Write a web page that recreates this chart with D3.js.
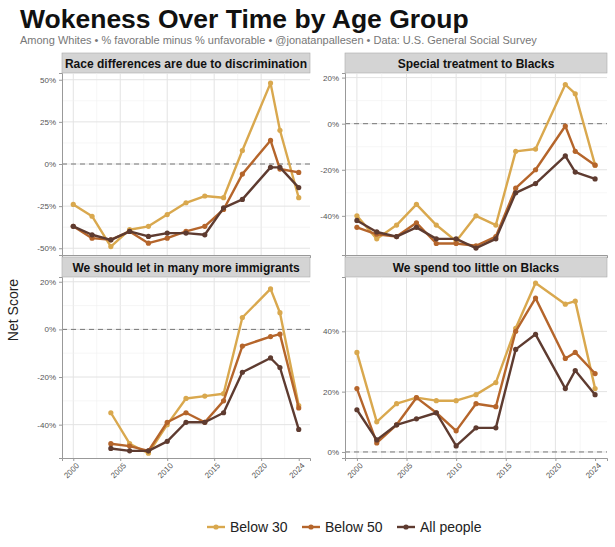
<!DOCTYPE html>
<html>
<head>
<meta charset="utf-8">
<script src="https://cdn.jsdelivr.net/npm/d3@7"></script>
<style>
  body { margin: 0; background: #fff; font-family: "Liberation Sans", Arial, sans-serif; }
  .tick text { fill: #555; font-size: 8px; }
</style>
</head>
<body>
<svg id="chart" width="615" height="547"></svg>
<script>
var years = [2000, 2002, 2004, 2006, 2008, 2010, 2012, 2014, 2016, 2018, 2021, 2022, 2024];
var immYears = [2004, 2006, 2008, 2010, 2012, 2014, 2016, 2018, 2021, 2022, 2024];
var seriesNames = ["Below 30", "Below 50", "All people"];
var colors = ["#d9a84e", "#b5652b", "#5e3b30"];
var xTicks = [2000, 2005, 2010, 2015, 2020, 2024];

var raceBelow30 = [-24, -31, -49, -39, -37, -30, -23, -19, -20, 8, 48, 20, -20];
var raceBelow50 = [-37, -44, -45, -40, -47, -44, -40, -37, -27, -6, 14, -3, -5];
var raceAll     = [-37, -42, -45, -40, -43, -41, -41, -42, -26, -21, -2, -2, -14];

var specBelow30 = [-40, -50, -44, -35, -44, -51, -40, -44, -12, -11, 17, 13, -18];
var specBelow50 = [-45, -48, -49, -43, -52, -52, -53, -49, -28, -20, -1, -12, -18];
var specAll     = [-42, -47, -49, -45, -50, -50, -54, -50, -30, -26, -14, -21, -24];

var immBelow30 = [-35, -48, -52, -40, -29, -28, -27, 5, 17, 7, -32];
var immBelow50 = [-48, -49, -51, -39, -35, -39, -30, -7, -3, -2, -33];
var immAll     = [-50, -51, -51, -47, -39, -39, -35, -18, -12, -16, -42];

var spendBelow30 = [33, 10, 16, 18, 17, 17, 19, 23, 41, 56, 49, 50, 21];
var spendBelow50 = [21, 3, 9, 18, 13, 7, 16, 15, 40, 51, 31, 33, 26];
var spendAll     = [14, 4, 9, 11, 13, 2, 8, 8, 34, 39, 21, 27, 19];

var panels = [
  { title: "Race differences are due to discrimination", x: years, s: [raceBelow30, raceBelow50, raceAll],
    dom: [-54, 54], ticks: [-50, -25, 0, 25, 50], left: 62, right: 310, top: 53, bottom: 255, xaxis: false },
  { title: "Special treatment to Blacks", x: years, s: [specBelow30, specBelow50, specAll],
    dom: [-57, 22], ticks: [-40, -20, 0, 20], left: 345, right: 607, top: 53, bottom: 255, xaxis: false },
  { title: "We should let in many more immigrants", x: immYears, s: [immBelow30, immBelow50, immAll],
    dom: [-54, 22], ticks: [-40, -20, 0, 20], left: 62, right: 310, top: 257, bottom: 458, xaxis: true },
  { title: "We spend too little on Blacks", x: years, s: [spendBelow30, spendBelow50, spendAll],
    dom: [-2, 58], ticks: [0, 20, 40], left: 345, right: 607, top: 257, bottom: 458, xaxis: true }
];

var svg = d3.select("#chart");

svg.append("text").attr("x", 20).attr("y", 28).attr("font-size", 26.5).attr("font-weight", "bold")
  .attr("fill", "#111").text("Wokeness Over Time by Age Group");
svg.append("text").attr("x", 20).attr("y", 44).attr("font-size", 11).attr("fill", "#777")
  .text("Among Whites • % favorable minus % unfavorable • @jonatanpallesen • Data: U.S. General Social Survey");

svg.append("text").attr("transform", "translate(18,310) rotate(-90)").attr("text-anchor", "middle")
  .attr("font-size", 14).attr("fill", "#222").text("Net Score");

panels.forEach(function(p) {
  var stripH = 20;
  var plotTop = p.top + stripH;
  var x = d3.scaleLinear().domain([1998.8, 2025.2]).range([p.left, p.right]);
  var y = d3.scaleLinear().domain(p.dom).range([p.bottom, plotTop]);
  var g = svg.append("g");

  // strip
  g.append("rect").attr("x", p.left).attr("y", p.top).attr("width", p.right - p.left).attr("height", stripH)
    .attr("fill", "#d4d4d4").attr("stroke", "#aaa").attr("stroke-width", 0.6);
  g.append("text").attr("x", (p.left + p.right) / 2).attr("y", p.top + 14.5).attr("text-anchor", "middle")
    .attr("font-size", 12).attr("font-weight", "bold").attr("fill", "#111").text(p.title);

  // grid
  var minor = d3.range(2000, 2025, 2.5);
  g.selectAll(".vg").data(minor).enter().append("line")
    .attr("x1", d => x(d)).attr("x2", d => x(d)).attr("y1", plotTop).attr("y2", p.bottom)
    .attr("stroke", d => (d % 5 === 0 ? "#e3e3e3" : "#f0f0f0")).attr("stroke-width", d => (d % 5 === 0 ? 1 : 0.6));
  var yMinor = [];
  for (var i = 0; i < p.ticks.length - 1; i++) yMinor.push((p.ticks[i] + p.ticks[i + 1]) / 2);
  g.selectAll(".hm").data(yMinor).enter().append("line")
    .attr("x1", p.left).attr("x2", p.right).attr("y1", d => y(d)).attr("y2", d => y(d))
    .attr("stroke", "#f0f0f0").attr("stroke-width", 0.6);
  g.selectAll(".hg").data(p.ticks).enter().append("line")
    .attr("x1", p.left).attr("x2", p.right).attr("y1", d => y(d)).attr("y2", d => y(d))
    .attr("stroke", "#e3e3e3");

  // zero line
  g.append("line").attr("x1", p.left).attr("x2", p.right).attr("y1", y(0)).attr("y2", y(0))
    .attr("stroke", "#777").attr("stroke-dasharray", "5,4").attr("stroke-width", 1);

  // axes
  var ya = g.append("g").attr("transform", "translate(" + p.left + ",0)")
    .call(d3.axisLeft(y).tickValues(p.ticks).tickSize(3).tickFormat(d => d + "%"));
  ya.select(".domain").attr("stroke", "#999");
  ya.selectAll(".tick line").attr("stroke", "#999");
  var xa = g.append("g").attr("transform", "translate(0," + p.bottom + ")")
    .call(d3.axisBottom(x).tickValues(xTicks).tickSize(3).tickFormat(p.xaxis ? d3.format("d") : ""));
  xa.select(".domain").attr("stroke", "#999");
  xa.selectAll(".tick line").attr("stroke", "#999");
  if (p.xaxis) {
    xa.selectAll(".tick text").attr("text-anchor", "end").attr("dx", "-0.2em").attr("dy", "0.5em")
      .attr("transform", "rotate(-45)");
  } else {
    xa.selectAll(".tick line").remove();
  }

  // series
  var line = d3.line().x(d => x(d[0])).y(d => y(d[1]));
  p.s.forEach(function(vals, k) {
    var pts = p.x.map((yr, j) => [yr, vals[j]]);
    g.append("path").datum(pts).attr("d", line).attr("fill", "none")
      .attr("stroke", colors[k]).attr("stroke-width", 2.4).attr("stroke-linejoin", "round");
    g.selectAll(".pt" + k).data(pts).enter().append("circle")
      .attr("cx", d => x(d[0])).attr("cy", d => y(d[1])).attr("r", 2.6).attr("fill", colors[k]);
  });
});

// legend
var lg = svg.append("g").attr("transform", "translate(232,527)");
var offs = [0, 95, 190];
seriesNames.forEach(function(n, k) {
  var gg = lg.append("g").attr("transform", "translate(" + offs[k] + ",0)");
  gg.append("line").attr("x1", -25).attr("x2", -7).attr("y1", 0).attr("y2", 0).attr("stroke", colors[k]).attr("stroke-width", 2.4);
  gg.append("circle").attr("cx", -16).attr("cy", 0).attr("r", 2.6).attr("fill", colors[k]);
  gg.append("text").attr("x", -2).attr("y", 5).attr("font-size", 14).attr("fill", "#222").text(n);
});
</script>
</body>
</html>
